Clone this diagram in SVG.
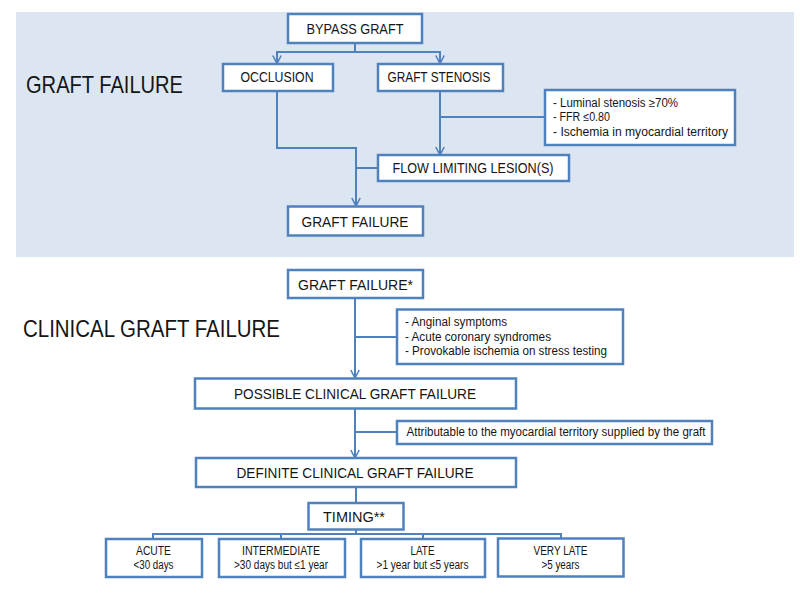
<svg xmlns="http://www.w3.org/2000/svg" width="800" height="591" viewBox="0 0 800 591">
<defs>
<style>
.box{fill:#fff;stroke:#4f81bd;stroke-width:2.5}
.ln{fill:none;stroke:#4f81bd;stroke-width:2}
.t{font-family:"Liberation Sans",Arial,sans-serif;fill:#151515}
.lbl{font-size:14px;text-anchor:middle}
.sm{font-size:12px}
.tc{font-size:12px;text-anchor:middle}
.title{font-size:24px}
</style>
<marker id="arr" viewBox="0 0 10 10" refX="9" refY="5" markerWidth="10" markerHeight="10" markerUnits="userSpaceOnUse" orient="auto">
<path d="M1,0.8 L9,5 L1,9.2" fill="none" stroke="#4f81bd" stroke-width="1.6"/>
</marker>
</defs>
<rect width="800" height="591" fill="#fff"/>
<rect x="16" y="12" width="778" height="245" fill="#dce6f2"/>

<text class="t title" x="26" y="93" textLength="157" lengthAdjust="spacingAndGlyphs">GRAFT FAILURE</text>
<text class="t title" x="23" y="336.5" font-size="23" textLength="257" lengthAdjust="spacingAndGlyphs" style="font-size:23px">CLINICAL GRAFT FAILURE</text>

<g id="connectors">
<path class="ln" d="M355,43 V52 H277 V63.5" marker-end="url(#arr)"/>
<path class="ln" d="M355,52 H440 V63.5" marker-end="url(#arr)"/>
<path class="ln" d="M277,91 V148 H356 V206" marker-end="url(#arr)"/>
<path class="ln" d="M440,91 V155" marker-end="url(#arr)"/>
<path class="ln" d="M440,117 H545"/>
<path class="ln" d="M356,168 H378"/>
<path class="ln" d="M355,298 V378" marker-end="url(#arr)"/>
<path class="ln" d="M355,337 H397"/>
<path class="ln" d="M355,408 V458" marker-end="url(#arr)"/>
<path class="ln" d="M355,432 H397"/>
<path class="ln" d="M356,487 V503"/>
<path class="ln" d="M356,529 V534"/>
<path class="ln" d="M153,539 V534 H561 V539"/>
<path class="ln" d="M281,534 V539"/>
<path class="ln" d="M423,534 V539"/>
</g>

<g id="bypass-graft">
<rect class="box" x="288" y="14" width="134" height="29"/>
<text class="t lbl" x="355" y="33.5" textLength="97" lengthAdjust="spacingAndGlyphs">BYPASS GRAFT</text>
</g>
<g id="occlusion">
<rect class="box" x="223" y="64" width="110" height="27"/>
<text class="t lbl" x="277" y="82" textLength="73" lengthAdjust="spacingAndGlyphs">OCCLUSION</text>
</g>
<g id="graft-stenosis">
<rect class="box" x="378" y="64" width="125" height="27"/>
<text class="t lbl" x="439" y="82" textLength="103" lengthAdjust="spacingAndGlyphs">GRAFT STENOSIS</text>
</g>
<g id="criteria-stenosis">
<rect class="box" x="545" y="90" width="190" height="55"/>
<text class="t sm" x="553" y="106.5" textLength="125" lengthAdjust="spacingAndGlyphs">- Luminal stenosis ≥70%</text>
<text class="t sm" x="553" y="121" textLength="57" lengthAdjust="spacingAndGlyphs">- FFR ≤0.80</text>
<text class="t sm" x="553" y="136" textLength="175" lengthAdjust="spacingAndGlyphs">- Ischemia in myocardial territory</text>
</g>
<g id="flow-limiting">
<rect class="box" x="378" y="155" width="191" height="26"/>
<text class="t lbl" x="473" y="173" textLength="161" lengthAdjust="spacingAndGlyphs">FLOW LIMITING LESION(S)</text>
</g>
<g id="graft-failure">
<rect class="box" x="288" y="206.5" width="135" height="29"/>
<text class="t lbl" x="355" y="227" textLength="107" lengthAdjust="spacingAndGlyphs">GRAFT FAILURE</text>
</g>

<g id="graft-failure-star">
<rect class="box" x="288" y="270" width="135" height="28"/>
<text class="t lbl" x="355.5" y="290" textLength="115" lengthAdjust="spacingAndGlyphs">GRAFT FAILURE*</text>
</g>
<g id="criteria-clinical">
<rect class="box" x="397" y="309.5" width="226" height="54.5"/>
<text class="t sm" x="405" y="326" textLength="102" lengthAdjust="spacingAndGlyphs">- Anginal symptoms</text>
<text class="t sm" x="405" y="340.5" textLength="146" lengthAdjust="spacingAndGlyphs">- Acute coronary syndromes</text>
<text class="t sm" x="405" y="355" textLength="202" lengthAdjust="spacingAndGlyphs">- Provokable ischemia on stress testing</text>
</g>
<g id="possible">
<rect class="box" x="195" y="378.5" width="321" height="30"/>
<text class="t lbl" x="355" y="399" textLength="242" lengthAdjust="spacingAndGlyphs">POSSIBLE CLINICAL GRAFT FAILURE</text>
</g>
<g id="attributable">
<rect class="box" x="397" y="421" width="315" height="23"/>
<text class="t sm" x="406.5" y="436" textLength="299" lengthAdjust="spacingAndGlyphs">Attributable to the myocardial territory supplied by the graft</text>
</g>
<g id="definite">
<rect class="box" x="196" y="458" width="320" height="29"/>
<text class="t lbl" x="355" y="477.5" textLength="237" lengthAdjust="spacingAndGlyphs">DEFINITE CLINICAL GRAFT FAILURE</text>
</g>
<g id="timing">
<rect class="box" x="308.5" y="503" width="95" height="26.5"/>
<text class="t lbl" x="354" y="521.5" textLength="62" lengthAdjust="spacingAndGlyphs">TIMING**</text>
</g>
<g id="acute">
<rect class="box" x="106" y="539" width="96" height="38"/>
<text class="t tc" x="153.5" y="555" textLength="35" lengthAdjust="spacingAndGlyphs">ACUTE</text>
<text class="t tc" x="153.5" y="569" textLength="40" lengthAdjust="spacingAndGlyphs">&lt;30 days</text>
</g>
<g id="intermediate">
<rect class="box" x="219" y="539" width="126" height="38"/>
<text class="t tc" x="281" y="555" textLength="78" lengthAdjust="spacingAndGlyphs">INTERMEDIATE</text>
<text class="t tc" x="281" y="569" textLength="94" lengthAdjust="spacingAndGlyphs">&gt;30 days but ≤1 year</text>
</g>
<g id="late">
<rect class="box" x="361" y="539" width="124" height="38"/>
<text class="t tc" x="422.5" y="555" textLength="24" lengthAdjust="spacingAndGlyphs">LATE</text>
<text class="t tc" x="422.5" y="569" textLength="92" lengthAdjust="spacingAndGlyphs">&gt;1 year but ≤5 years</text>
</g>
<g id="very-late">
<rect class="box" x="498" y="538.5" width="125.5" height="38"/>
<text class="t tc" x="560.5" y="555" textLength="54" lengthAdjust="spacingAndGlyphs">VERY LATE</text>
<text class="t tc" x="560.5" y="569" textLength="38" lengthAdjust="spacingAndGlyphs">&gt;5 years</text>
</g>
</svg>
